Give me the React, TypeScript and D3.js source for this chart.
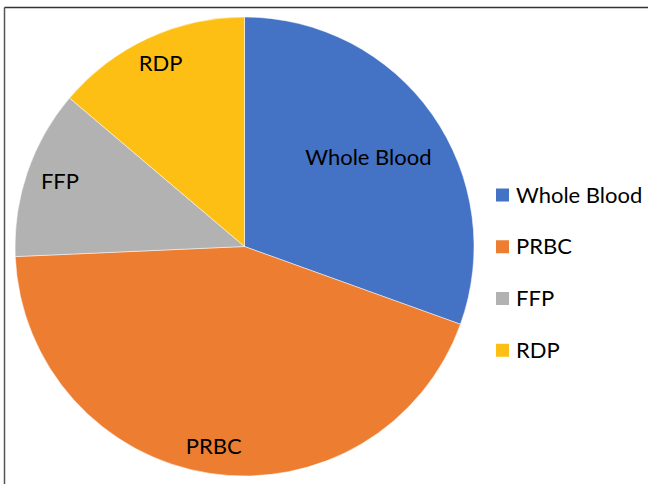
import React, { useEffect, useRef } from 'react';
import * as d3 from 'd3';

const categories = ['Whole Blood', 'PRBC', 'FFP', 'RDP'];
const values = [30.5, 43.8, 11.9, 13.8];
const colors = ['#4472C4', '#ED7D31', '#B2B2B2', '#FDBF14'];
// label distance from the centre as a share of the radius (Excel "best fit")
const labelRadius = [0.66, 0.89, 0.85, 0.87];

export default function App() {
  const ref = useRef<SVGSVGElement>(null);

  useEffect(() => {
    const width = 648;
    const height = 484;
    const svg = d3.select(ref.current);
    svg.selectAll('*').remove();
    svg.attr('width', width).attr('height', height);

    // frame: top and left edges only
    svg.append('line').attr('x1', 4.5).attr('x2', width).attr('y1', 7.5).attr('y2', 7.5)
      .attr('stroke', '#333').attr('stroke-width', 1.5);
    svg.append('line').attr('x1', 4.5).attr('x2', 4.5).attr('y1', 7.5).attr('y2', height)
      .attr('stroke', '#555').attr('stroke-width', 1.5);

    const cx = 244.5;
    const cy = 246.5;
    const r = 229.5;

    const data = categories.map((c, i) => ({ name: c, value: values[i], color: colors[i], lr: labelRadius[i] }));
    const pie = d3.pie<any>().value((d) => d.value).sort(null);
    const arc = d3.arc<any>().innerRadius(0).outerRadius(r);

    const g = svg.append('g').attr('transform', `translate(${cx},${cy})`);
    const arcs = pie(data);

    g.selectAll('path')
      .data(arcs)
      .enter()
      .append('path')
      .attr('d', arc)
      .attr('fill', (d) => d.data.color)
      .attr('stroke', '#fff')
      .attr('stroke-width', 0.5);

    const labelPos = (d: any) => {
      const rr = r * d.data.lr;
      return d3.arc<any>().innerRadius(rr).outerRadius(rr).centroid(d);
    };

    g.selectAll('.lbl')
      .data(arcs)
      .enter()
      .append('text')
      .attr('class', 'lbl')
      .attr('x', (d) => labelPos(d)[0])
      .attr('y', (d) => labelPos(d)[1] - 3)
      .attr('text-anchor', 'middle')
      .attr('dominant-baseline', 'central')
      .attr('font-family', 'Lato, sans-serif')
      .attr('font-size', 22)
      .attr('fill', '#000')
      .text((d) => d.data.name);

    const legend = svg.append('g').attr('transform', 'translate(496,195)');
    const rowY = d3.scaleBand().domain(categories).range([0, 207]).paddingInner(0);
    const items = legend.selectAll('.item')
      .data(data)
      .enter()
      .append('g')
      .attr('transform', (d) => `translate(0,${rowY(d.name)!})`);
    items.append('rect').attr('x', 0).attr('y', -6.5).attr('width', 13).attr('height', 13)
      .attr('fill', (d) => d.color);
    items.append('text')
      .attr('x', 20)
      .attr('y', -1)
      .attr('dominant-baseline', 'central')
      .attr('font-family', 'Lato, sans-serif')
      .attr('font-size', 22)
      .attr('fill', '#000')
      .text((d) => d.name);
  }, []);

  return (
    <div style={{ position: 'absolute', left: 0, top: 0 }}>
      <svg ref={ref}></svg>
    </div>
  );
}
